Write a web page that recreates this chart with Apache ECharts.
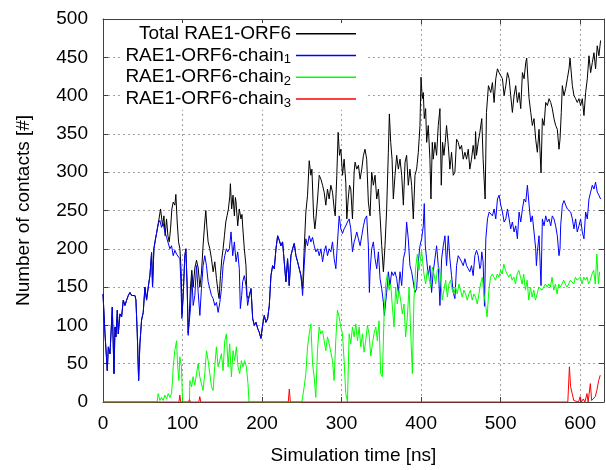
<!DOCTYPE html>
<html>
<head>
<meta charset="utf-8">
<script src="https://cdn.jsdelivr.net/npm/echarts@6/dist/echarts.min.js"></script>
<style>
  html, body { margin: 0; padding: 0; background: #fff; }
  #chart { width: 606px; height: 470px; }
</style>
</head>
<body>
<div id="chart"></div>
<script>
// series names, as in the key
var seriesNames = ['Total RAE1-ORF6', 'RAE1-ORF6-chain1', 'RAE1-ORF6-chain2', 'RAE1-ORF6-chain3'];
var seriesColors = ['#000000', '#0000ff', '#00ff00', '#ff0000'];

// [time ns, contacts]
var total = [
  [0,141],[2.5,89],[4.6,54],[5.4,41],[6.7,72],[8.8,63],[11.7,124],[13.8,37],[15.1,98],[16.3,85],[18,120],[19.2,89],[21.3,115],[23.4,111],[25.5,133],[27.6,126],[29.7,133],[31.8,139],[33.9,143],[36,139],[38,141],[40.2,139],[41.4,133],[43.1,89],[44.8,28],[46.4,76],[48.5,107],[50.6,117],[52.7,150],[54.8,133],[56.9,150],[59,165],[61.1,195],[62.3,150],[64,200],[65.7,211],[67.3,220],
  [69.5,233],[72.4,252],[73.6,254],[74.9,230],[76.6,243],[78.2,217],[79.9,239],[81.6,217],[83.3,209],[84.9,226],[86.6,252],[88.3,261],[90.4,257],[91.6,271],[93.3,235],[95,209],[96.7,200],[98.3,170],[99.4,115],[100.8,139],[102.9,191],[104.2,200],[105.9,150],[107.1,90],[108.4,110],[110,150],[111.7,172],[113.4,150],[115.5,175],[117.6,185],[119.7,175],[121.8,150],[123.8,168],[125.9,205],[128,235],[129.3,250],[130.5,230],[132.2,209],[134.3,200],[136.4,187],[138.5,170],[140.6,183],[142.7,161],[144.8,143],[146,135],[147.7,165],[149.4,187],[151,200],[152.7,217],[154.4,235],[156,243],[157.7,252],[159.4,268],[160.2,285],[161.8,252],[163.5,270],[165.2,243],[166.5,267],[167.3,261],[169.4,230],[171.4,252],[173.5,239],[174.8,245],[175.6,230],[177.7,200],[179.8,178],[181,139],[182.7,135],
  [184,139],[186.1,148],[188.2,109],[190.3,100],[192.4,104],[194.5,96],[196.5,91],[198.6,83],[200.7,100],[202.8,113],[204.9,104],[207,109],[209.1,126],[211.2,165],[213.3,178],[215.4,174],[217.5,200],[219.6,217],[221.7,211],[223.7,204],[225.8,209],[227.9,183],[230,157],[232.1,187],[234.2,152],[236.3,191],[238.4,200],[240.5,207],[242.6,191],[244.7,183],[246.8,183],[248.9,165],
  [251,148],[253,200],[255.1,248],[257.2,270],[259.3,315],[260.4,317],[261.4,296],[262.7,304],[264.8,243],[266.4,226],[267.7,239],[269.8,265],[271.9,296],[274,291],[276.1,283],[278.1,274],[280.2,257],[282.3,278],[284.4,265],[286.5,283],[288.6,274],[290.7,252],[292,243],[294,296],[295.7,352],[296.5,354],[297.4,322],[299.1,330],[301.2,296],[303.2,317],[305.3,287],[306.6,239],[308.3,265],[310,283],[311.6,278],[313.7,239],[315.8,300],
  [317,313],[319.1,304],[321.2,309],[323.3,291],[325.4,304],[327.5,322],[329.5,330],[331.6,317],[333.7,261],[335.8,243],[337.9,300],[340,283],[342.1,296],[344.2,265],[346.3,278],[348.4,243],[350.5,204],[352.6,170],[354.6,204],[356.7,252],[358.8,326],[360.1,376],[361.8,339],[363.5,317],[365.1,265],[367.2,296],[369.3,322],[371.4,304],[373.5,317],[375.6,296],[377.7,257],[379.8,313],[381.8,322],[383.9,283],[386,304],[388.1,283],[390.2,239],[392.3,296],[394.4,304],[396.5,326],[398.6,361],[399.9,424],[401.5,396],[402.8,404],[404,370],[405.7,383],[407,339],[409,361],[411.1,317],[412.4,265],[414.1,339],[415.3,317],[417.4,339],[419.5,322],[421.6,361],[423.7,383],[425.4,283],[427,339],[428.7,322],[430.4,339],[432,361],[434.2,335],[436.2,304],[438.3,326],[440.4,296],[442.5,300],[444.6,343],[446.7,339],[448.8,330],[450.9,335],[453,317],[455.1,326],[457.2,317],[459.3,330],[461.3,304],[463.4,317],[465.5,335],[467.6,317],[468.5,353],[469.7,322],[471.8,339],[473.9,352],
  [476.3,370],[478,317],[480.5,265],[482.2,378],[484.7,413],[487.6,404],[489.7,417],[491.8,391],[493.9,422],[496,435],[498.1,430],[500.2,426],[502.3,422],[504.4,400],[506.5,413],[508.6,430],[510.7,422],[512.7,400],[514.8,378],[516.9,400],[519,413],[521.1,391],[523.2,404],[525.3,383],[527.4,430],[529.5,422],[531.6,443],[532.8,449],[535.8,396],[537.9,378],[539.9,361],[542,370],[544.1,343],[546.2,326],[548.3,356],[550.8,299],[552.5,370],[554.6,361],[556.7,391],[558.8,387],[560.9,396],[563,391],[565,383],[567.1,370],[569.2,361],[571.3,356],[573.4,330],[574.7,343],[576.3,378],[577.6,413],[579.7,400],[581.8,409],[583.9,422],[586,435],[587.3,449],[590.2,413],[592.2,400],[594.3,396],[596.4,391],[598.5,396],[600.6,387],[602.7,396],[604.8,374],[606.9,404],[609,422],[611.1,452],[613.2,430],[615.3,443],[617.4,456],[619.4,435],[621.5,465],[623.6,452],[625.7,472]
];

var chain1 = [
  [0,141],[2.5,89],[4.6,54],[5.4,41],[6.7,72],[8.8,63],[11.7,124],[13.8,37],[15.1,98],[16.3,85],[18,120],[19.2,89],[21.3,115],[23.4,111],[25.5,133],[27.6,126],[29.7,133],[31.8,139],[33.9,143],[36,139],[38,141],[40.2,139],[41.4,133],[43.1,89],[44.8,28],[46.4,76],[48.5,107],[50.6,117],[52.7,150],[54.8,133],[56.9,150],[59,165],[61.1,195],[62.3,150],[64,200],[65.7,211],[67.3,220],
  [69.5,233],[71.5,237],[73.6,228],[75.7,233],[77.8,222],[79.9,215],[82,213],[84.1,200],[86.2,204],[88.3,191],[90.4,198],[92.5,193],[94.6,191],[96.7,187],[97.9,157],[99.2,109],[100.8,139],[102.9,191],[104.2,200],[105.9,148],[107.1,87],[108.4,104],[110,122],[111.7,165],[113.4,126],[115.5,139],[117.6,178],[119.7,143],[121.8,113],[123.8,148],[125.9,178],[128,191],[130.1,178],[132.2,157],[134.3,148],[136.4,139],[138.5,135],[140.6,126],[142.7,130],[144.8,117],[146.9,130],[149,148],[151,178],[153.1,191],[155.2,200],[156.8,196],
  [158.9,200],[161,222],[163.1,191],[165.2,209],[167.3,183],[169.4,196],[171.4,174],[172.7,122],[174.4,139],[175.6,157],[177.7,165],[179.8,152],[181.9,126],[184,139],[186.1,148],[188.2,109],[190.3,100],[192.4,104],[194.5,96],[196.5,91],[198.6,83],[200.7,100],[202.8,113],[204.9,104],[207,109],[209.1,126],[211.2,165],[213.3,178],[215.4,174],[217.5,200],[219.6,217],[221.7,211],[223.7,204],[225.8,209],[227.9,183],[230,157],[232.1,187],[234.2,152],[236.3,191],[238.4,200],[240.5,207],[242.6,191],[244.7,183],[246.8,183],[248.9,165],
  [251,139],[253,178],[255.1,213],[257.2,204],[259.3,217],[261.4,209],[263.5,215],[265.6,204],[267.7,196],[269.8,200],[271.9,191],[274,200],[276.1,183],[278.1,196],[280.2,204],[282.3,191],[284.4,200],[286.5,196],[288.6,209],[290.7,187],[292.8,174],[294.9,209],[297,243],[299.1,226],[301.2,220],[303.2,226],[305.3,230],[307.4,235],[309.5,239],[311.6,226],[313.7,196],[315.8,209],
  [317,213],[319.1,222],[321.2,213],[323.3,204],[325.4,217],[327.5,230],[329.5,239],[331.6,243],[333.7,204],[335,143],[335.8,170],[337.9,200],[340,209],[342.1,187],[344.2,174],[346.3,196],[348.4,161],[350.5,148],[352.6,130],[353.8,113],[356.7,143],[358.8,170],[360.9,152],[363,170],[365.1,165],[367.2,170],[369.3,161],[371.4,143],[373.5,170],[375.6,152],[377.7,187],[379.8,196],[381.8,235],[383.9,213],[386,178],[388.1,170],[390.2,170],[392.3,143],[394.4,148],[396.5,183],[398.6,204],[400.7,213],[402.8,230],[404,259],[405.3,204],[406.9,187],[409,165],[411.1,178],[413.2,143],[415.3,170],[417.4,187],[419.5,204],[421.6,178],[423.7,126],[425.8,187],[427.9,204],[430,217],[432,178],[434.2,217],[436.2,187],[438.3,165],[440.4,143],[442.5,135],[444.6,178],[446.7,191],[448.8,187],[450.9,183],[453,178],[455.1,187],[457.2,178],[459.3,174],[461.3,170],[463.4,178],[465.5,165],[467.6,191],[469.7,198],[471.8,191],[473.9,174],
  [475.1,178],[476.3,196],[478,183],[479.7,125],[481.4,213],[483.5,239],[485.6,248],[487.6,250],[489.7,243],[491.8,252],[493.9,239],[496,265],[498.1,270],[500.2,257],[502.3,248],[504.4,235],[506.5,239],[508.6,252],[510.7,239],[512.7,226],[514.8,235],[516.9,222],[519,230],[521.1,213],[523.2,248],[525.3,235],[527.4,252],[529.5,265],[531.6,261],[533.7,283],[535.8,257],[537.9,235],[539.9,243],[542,222],[544.1,200],[545,178],[546.2,196],[548.3,217],[550.8,152],[552.5,239],[554.6,230],[556.7,243],[558.8,235],[560.9,239],[563,230],[565,243],[567.1,239],[569.2,230],[571.3,217],[573.4,191],[574.7,200],[575.5,230],[577.6,257],[579.7,263],[581.8,257],[583.9,252],[586,252],[588.1,248],[590.2,239],[592.2,226],[594.3,239],[596.4,222],[598.5,230],[600.6,239],[602.7,222],[604.8,213],[606.9,248],[609,239],[611.1,265],[613.2,274],[615.3,283],[617.4,278],[619.4,287],[621.5,274],[623.6,270],[625.7,265]
];

var chain2 = [
  [0,0],[68,0],[69.4,11],[71.5,2],[73.6,6],[75.7,2],[77.8,9],[79.9,4],[82,11],[84.1,6],[86.2,11],[87.4,28],[88.3,46],[90.3,67],[92.5,80],[93.7,50],[95.4,28],[96.6,59],[98.7,46],[100,0],[108.7,0],[109.2,28],[111.3,20],[113.3,33],[115.4,22],[117.6,37],[119.6,50],[121.7,33],[123.8,24],[125.8,15],[128,37],[130.1,67],[132.2,54],[134.3,37],[136.4,20],[138.4,15],[140.5,46],[142.6,72],[144.7,46],[146.8,54],[148.9,63],[151,41],[153.1,80],[155.2,89],[157.3,46],[159.3,76],[161.5,33],[163.5,67],[165.6,54],[167.7,72],[169.8,46],[171.9,37],[174,54],[176,46],[178.2,54],[180.3,46],[182.3,24],[183.6,0],
  [250,0],[251,6],[253,20],[255.1,37],[257.2,72],[259.3,89],[261.4,102],[263.5,50],[265.5,33],[267.6,6],[269.7,67],[271.8,98],[273.9,89],[276,93],[278.1,80],[280.2,67],[282.3,85],[284.4,76],[286.5,65],[288.6,54],[290.6,28],[292.7,80],[294.8,120],[296.9,111],[299,98],[301.1,89],[303.2,54],[305.3,11],[307.4,0],[309.5,89],[311.6,76],[313.7,98],[315.8,85],[317.9,102],[320,80],[322.1,98],[324.1,72],[326.2,89],[328.3,65],[330.4,80],[332.5,100],[334.6,89],[336.7,60],[338.8,76],[340.9,90],[343,98],[345,80],[347.1,106],[349.2,37],[351.3,33],[353.4,111],[355.5,154],[357.6,167],[359.7,146],[361.8,154],[363.9,124],[366,98],[368,150],[370,128],[372.2,146],[374.3,133],[376.4,115],[378.5,128],[380.6,85],[382.7,111],[384.9,150],[387,89],[389,37],[391,133],[393.2,176],[395.3,193],[397.4,172],[399.4,189],[400.6,198],[403.6,167],[405.7,154],[407.8,172],[409.9,163],[412,150],[414.1,176],[416.2,167],[418.3,154],[420.4,172],[422.5,176],[424.5,163],[426.6,133],[428.7,146],[430.9,159],[433,137],[435,154],[437,159],[439.2,146],[441.3,141],[443.4,150],[445.5,141],[447.6,154],[449.6,146],[451.7,137],[453.8,146],[455.9,141],[458,133],[460.1,141],[462,146],[464.3,133],[466.4,141],[468.5,137],[470.6,128],[472.7,141],[474.8,154],[476.9,163],[479,141],[481,128],[483,111],[485.2,146],[487.3,163],[489.4,167],[491.5,163],[493.6,159],[495.7,167],[497.8,163],[500,172],[502,167],[504,180],[506.1,172],[508.2,167],[510.3,163],[512.4,167],[514.5,159],[516.6,163],[518.7,154],[520.8,167],[522.9,172],[525,163],[527,154],[529,167],[531.2,146],[533.3,159],[535.4,133],[537.5,150],[539.6,137],[541.7,146],[543.8,133],[545.9,141],[548,150],[550,150],[552.1,146],[554.2,150],[556.3,154],[558.4,150],[560.5,154],[562.6,150],[564.7,163],[566.8,146],[568.9,154],[571,141],[573,154],[575,150],[577.2,154],[579.3,159],[581.4,154],[583.5,150],[585.6,154],[587.7,159],[589.8,159],[592,154],[594,163],[596,159],[598.2,159],[600.3,163],[602.4,154],[604.5,163],[606.6,159],[608.6,163],[610.7,154],[612.8,159],[614.9,167],[617,172],[619,154],[621,193],[623,154],[624.5,170]
];

var chain3 = [
  [0,0],[95.5,0],[96.6,9],[97.8,0],[107.5,0],[108.7,3],[110,0],[120.5,0],[121.7,7],[123,0],[233,0],[234.3,17],[235.6,0],[584.5,0],[586.5,46],[588,20],[590,11],[592,2],[594,0],[598,0],[600,7],[601.5,0],[604,4],[606,0],[608.6,11],[610,0],[612.8,24],[614.5,2],[617,0],[619,7],[621,15],[623.3,28],[625.3,35]
];

var xTicks = { min: 0, max: 630, interval: 100 };
var yTicks = { min: 0, max: 500, interval: 50 };

var FONT = "'Liberation Sans', Arial, sans-serif";
var chart = echarts.init(document.getElementById('chart'));

function frameAxis(pos, ticks, withLabels) {
  return {
    type: 'value',
    position: pos,
    min: ticks.min,
    max: ticks.max,
    interval: ticks.interval,
    z: 3,
    axisLine: { show: true, onZero: false, lineStyle: { color: '#404040', width: 1 } },
    axisTick: { show: true, inside: true, length: 5, lineStyle: { color: '#404040' } },
    axisLabel: { show: withLabels, fontSize: 19, color: '#000', fontFamily: FONT },
    splitLine: { show: false }
  };
}

var xBottom = frameAxis('bottom', xTicks, true);
xBottom.axisLabel.margin = 12;
xBottom.axisLabel.showMaxLabel = false;
xBottom.splitLine = { show: true, lineStyle: { color: '#a0a0a0', type: [2, 3], width: 1 } };
xBottom.name = 'Simulation time [ns]';
xBottom.nameLocation = 'middle';
xBottom.nameGap = 44;
xBottom.nameTextStyle = { fontSize: 19, color: '#000', fontFamily: FONT };

var yLeft = frameAxis('left', yTicks, true);
yLeft.axisLabel.margin = 15;
yLeft.splitLine = { show: true, lineStyle: { color: '#a0a0a0', type: [2, 3], width: 1 } };
yLeft.name = 'Number of contacts [#]';
yLeft.nameLocation = 'middle';
yLeft.nameGap = 70;
yLeft.nameTextStyle = { fontSize: 19, color: '#000', fontFamily: FONT };

var datasets = [total, chain1, chain2, chain3];
var series = [];
for (var i = 0; i < seriesNames.length; i++) {
  series.push({
    name: seriesNames[i],
    type: 'line',
    xAxisIndex: 0,
    yAxisIndex: 0,
    data: datasets[i],
    showSymbol: false,
    symbol: 'none',
    color: seriesColors[i],
    lineStyle: { width: 1, color: seriesColors[i] }
  });
}

chart.setOption({
  animation: false,
  backgroundColor: '#fff',
  grid: { left: 103, right: 2, top: 19, bottom: 67 },
  legend: {
    data: seriesNames,
    orient: 'vertical',
    align: 'right',
    right: 238,
    top: 23,
    padding: [0, 12, 0, 3],
    itemGap: 0,
    itemWidth: 60,
    itemHeight: 1.5,
    icon: 'rect',
    backgroundColor: '#fff',
    selectedMode: false,
    formatter: function (name) {
      return name.replace(/chain(\d)$/, 'chain{sub|$1}');
    },
    textStyle: {
      fontSize: 19,
      color: '#000',
      fontFamily: FONT,
      lineHeight: 21.7,
      rich: {
        sub: { fontSize: 13, lineHeight: 10, verticalAlign: 'bottom', color: '#000', fontFamily: FONT }
      }
    }
  },
  xAxis: [xBottom, frameAxis('top', xTicks, false)],
  yAxis: [yLeft, frameAxis('right', yTicks, false)],
  series: series
});
</script>
</body>
</html>
